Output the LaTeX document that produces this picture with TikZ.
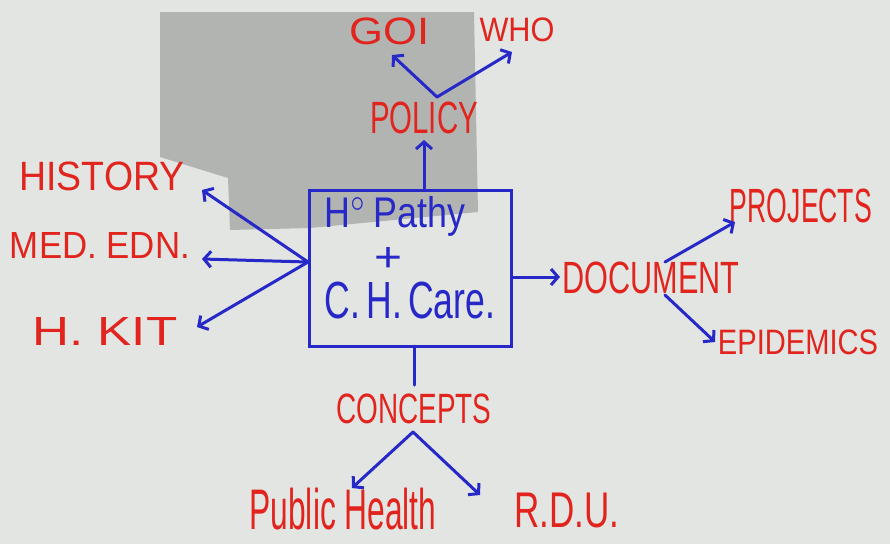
\documentclass[tikz,border=0pt]{standalone}
\usepackage{fontspec}
\usepackage{graphicx}
\setmainfont{Liberation Sans}
\usetikzlibrary{arrows.meta}
\definecolor{bgc}{RGB}{226,229,225}
\definecolor{shadowc}{RGB}{178,180,178}
\definecolor{redink}{RGB}{226,36,30}
\definecolor{blueink}{RGB}{38,40,200}
\newcommand{\fitlbl}[3]{\resizebox*{#1pt}{#2pt}{#3}}
\tikzset{
  lbl/.style={inner sep=0pt, outer sep=0pt, text=redink},
  inlbl/.style={inner sep=0pt, outer sep=0pt, text=blueink},
  arr/.style={draw=blueink, line width=3pt, line cap=round, line join=round,
    -{Straight Barb[length=7pt,width=16pt,line width=3pt]}},
  plain/.style={draw=blueink, line width=3pt, line cap=round},
  boxst/.style={draw=blueink, line width=3pt, inner sep=0pt,
    minimum width=202pt, minimum height=156pt}
}
\begin{document}
\begin{tikzpicture}[x=1pt,y=-1pt]
\fill[bgc] (0,0) rectangle (890,544);
\useasboundingbox (0,0) rectangle (890,544);
% shadow on the board
\fill[shadowc] (160,12) -- (474,12) -- (478,212) -- (310,228) -- (230,230)
  -- (228,178) -- (160,157) -- cycle;

% central box
\node[boxst] (box) at (410,268) {};
\node[inlbl] (t1) at (395,216) {\fitlbl{140}{40}{H$^{\circ}$\,Pathy}};
\node[inlbl] (t2) at (388,259) {\fitlbl{28}{24}{+}};
\node[inlbl] (t3) at (410,300) {\fitlbl{170}{37}{C.\,H.\,Care.}};

% labels
\node[lbl] (goi) at (390,31) {\fitlbl{80}{27}{GOI}};
\node[lbl] (who) at (517,30) {\fitlbl{75}{24}{WHO}};
\node[lbl] (policy) at (424,118) {\fitlbl{108}{32}{POLICY}};
\node[lbl] (history) at (102,176) {\fitlbl{165}{29}{HISTORY}};
\node[lbl] (mededn) at (100,245) {\fitlbl{180}{26}{MED. EDN.}};
\node[lbl] (hkit) at (105,331) {\fitlbl{145}{28}{H. KIT}};
\node[lbl] (doc) at (651,278) {\fitlbl{177}{32}{DOCUMENT}};
\node[lbl] (proj) at (801,206) {\fitlbl{142}{34}{PROJECTS}};
\node[lbl] (epid) at (798,342) {\fitlbl{160}{25}{EPIDEMICS}};
\node[lbl] (conc) at (414,409) {\fitlbl{155}{30}{CONCEPTS}};
\node[lbl] (ph) at (343,509) {\fitlbl{187}{42}{Public Health}};
\node[lbl] (rdu) at (567,510) {\fitlbl{105}{35}{R.D.U.}};

% junctions and tips
\coordinate (pj) at (437,97);
\coordinate (tgoi) at (392,55);
\coordinate (twho) at (512,52);
\coordinate (tpol) at (424,140);
\coordinate (lj) at (308,262);
\coordinate (this) at (202,190);
\coordinate (tmed) at (202,259);
\coordinate (tkit) at (197,327);
\coordinate (rj) at (512,277);
\coordinate (tdoc) at (560,277);
\coordinate (dju) at (665,262);
\coordinate (djd) at (665,295);
\coordinate (tproj) at (735,222);
\coordinate (tepid) at (715,342);
\coordinate (bj) at (414,346);
\coordinate (bend) at (414,385);
\coordinate (cj) at (413,432);
\coordinate (tph) at (352,488);
\coordinate (trdu) at (480,495);

% connectors
\draw[arr] (pj) -- (tgoi);
\draw[arr] (pj) -- (twho);
\draw[arr] (box.north -| tpol) -- (tpol);
\draw[arr] (lj) -- (this);
\draw[arr] (lj) -- (tmed);
\draw[arr] (lj) -- (tkit);
\draw[arr] (rj) -- (tdoc);
\draw[arr] (dju) -- (tproj);
\draw[arr] (djd) -- (tepid);
\draw[plain] (bj) -- (bend);
\draw[arr] (cj) -- (tph);
\draw[arr] (cj) -- (trdu);
\end{tikzpicture}
\end{document}
